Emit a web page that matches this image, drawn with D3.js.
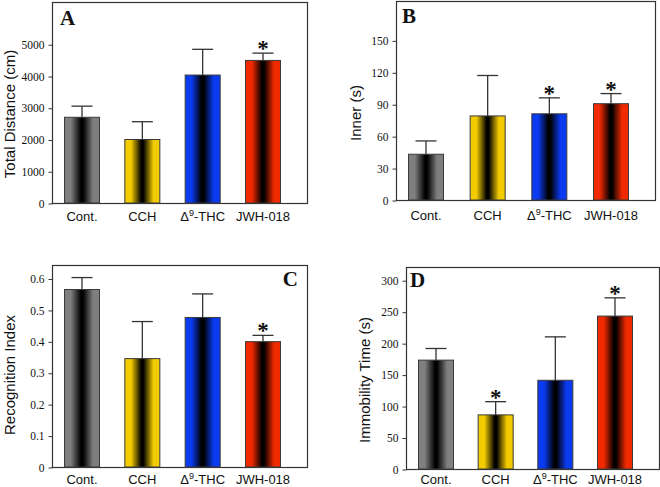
<!DOCTYPE html>
<html>
<head>
<meta charset="utf-8">
<script src="https://cdn.jsdelivr.net/npm/d3@7"></script>
<style>
  body { margin: 0; background: #fff; }
  .tick text { font-family: "Liberation Serif", "Times New Roman", serif; font-size: 11.5px; fill: #111; }
  .tick line, .domain { stroke: #333; }
  .ytitle { font-family: "Liberation Sans", Arial, sans-serif; font-size: 15px; fill: #111; }
  .cat { font-family: "Liberation Sans", Arial, sans-serif; font-size: 13px; fill: #111; }
  .letter { font-family: "Liberation Serif", "Times New Roman", serif; font-size: 21px; font-weight: bold; fill: #111; }
  .star { font-family: "Liberation Serif", "Times New Roman", serif; font-size: 23px; font-weight: bold; fill: #111; }
</style>
</head>
<body>
<div id="chart"></div>
<script>
// groups shown on every panel
var groups = ["Cont.", "CCH", "THC", "JWH-018"];

// A - total distance
var distMean = [2700, 2000, 4030, 4490];
var distErr = [350, 560, 810, 230];
var distStar = [false, false, false, true];
var distTicks = [0, 1000, 2000, 3000, 4000, 5000];

// B - time in inner zone
var innerMean = [43, 79, 81, 90.5];
var innerErr = [12.5, 38, 15, 9.5];
var innerStar = [false, false, true, true];
var innerTicks = [0, 30, 60, 90, 120, 150];

// C - recognition index
var recogMean = [0.565, 0.345, 0.476, 0.399];
var recogErr = [0.038, 0.118, 0.075, 0.02];
var recogStar = [false, false, false, true];
var recogTicks = [0, 0.1, 0.2, 0.3, 0.4, 0.5, 0.6];

// D - immobility time
var immobMean = [173, 86, 141, 243];
var immobErr = [18.5, 21, 69, 29];
var immobStar = [false, true, false, true];
var immobTicks = [0, 50, 100, 150, 200, 250, 300];

var colors = ["#7f7f7f", "#f2cb00", "#0b3bf0", "#f22a00"];

var svg = d3.select("#chart").append("svg")
  .attr("width", 660)
  .attr("height", 487);

// one gradient per colour: bright at the edges, black in the middle
var defs = svg.append("defs");
colors.forEach(function(c, i) {
  var g = defs.append("linearGradient")
    .attr("id", "grad" + i)
    .attr("x1", "0%").attr("x2", "100%")
    .attr("y1", "0%").attr("y2", "0%");
  g.append("stop").attr("offset", "0%").attr("stop-color", c);
  g.append("stop").attr("offset", "18%").attr("stop-color", c);
  g.append("stop").attr("offset", "47%").attr("stop-color", "#000");
  g.append("stop").attr("offset", "53%").attr("stop-color", "#000");
  g.append("stop").attr("offset", "82%").attr("stop-color", c);
  g.append("stop").attr("offset", "100%").attr("stop-color", c);
});

var panels = [
  { letter: "A", mean: distMean, err: distErr, star: distStar, ticks: distTicks, yMax: 6330,
    title: "Total Distance (cm)", x: 52, y: 2, w: 255, h: 201, catDy: 18,
    titleX: 10, titleY: 114, letterX: 60, letterY: 25, anchor: "start" },
  { letter: "B", mean: innerMean, err: innerErr, star: innerStar, ticks: innerTicks, yMax: 187,
    title: "Inner (s)", x: 396, y: 1, w: 259, h: 199, catDy: 20,
    titleX: 356, titleY: 113, letterX: 402, letterY: 23, anchor: "start" },
  { letter: "C", mean: recogMean, err: recogErr, star: recogStar, ticks: recogTicks, yMax: 0.643,
    title: "Recognition Index", x: 52, y: 265, w: 255, h: 202, catDy: 17,
    titleX: 10, titleY: 375, letterX: 298, letterY: 286, anchor: "end" },
  { letter: "D", mean: immobMean, err: immobErr, star: immobStar, ticks: immobTicks, yMax: 321,
    title: "Immobility Time (s)", x: 406, y: 267, w: 253, h: 202, catDy: 15,
    titleX: 365, titleY: 380, letterX: 410, letterY: 287, anchor: "start" }
];

panels.forEach(drawPanel);

function drawPanel(p) {
  var g = svg.append("g")
    .attr("transform", `translate(${p.x}, ${p.y})`);

  var x = d3.scalePoint()
    .domain(groups)
    .range([30, p.w - 44]);

  var y = d3.scaleLinear()
    .domain([0, p.yMax])
    .range([p.h, 0]);

  var barW = 35;

  // frame
  g.append("rect")
    .attr("x", 0.5).attr("y", 0.5)
    .attr("width", p.w).attr("height", p.h)
    .attr("fill", "none")
    .attr("stroke", "#333")
    .attr("stroke-width", 1.2);

  // y axis
  g.append("g")
    .attr("transform", "translate(0.5, 0.5)")
    .call(d3.axisLeft(y).tickValues(p.ticks).tickSize(4).tickPadding(4).tickFormat(function(d) { return String(d); }))
    .call(function(a) { a.select(".domain").remove(); });

  // error bars first, bars sit over the lower part
  var eb = g.selectAll(".err")
    .data(groups)
    .enter().append("g").attr("class", "err");

  eb.append("line")
    .attr("x1", function(d) { return x(d); })
    .attr("x2", function(d) { return x(d); })
    .attr("y1", function(d, i) { return y(p.mean[i]); })
    .attr("y2", function(d, i) { return y(p.mean[i] + p.err[i]); })
    .attr("stroke", "#333").attr("stroke-width", 1.3);

  eb.append("line")
    .attr("x1", function(d) { return x(d) - 10.5; })
    .attr("x2", function(d) { return x(d) + 10.5; })
    .attr("y1", function(d, i) { return y(p.mean[i] + p.err[i]); })
    .attr("y2", function(d, i) { return y(p.mean[i] + p.err[i]); })
    .attr("stroke", "#333").attr("stroke-width", 1.3);

  g.selectAll(".bar")
    .data(groups)
    .enter().append("rect")
    .attr("class", "bar")
    .attr("x", function(d) { return x(d) - barW / 2; })
    .attr("width", barW)
    .attr("y", function(d, i) { return y(p.mean[i]); })
    .attr("height", function(d, i) { return p.h - y(p.mean[i]); })
    .attr("fill", function(d, i) { return "url(#grad" + i + ")"; })
    .attr("stroke", "#3a3a3a")
    .attr("stroke-width", 1);

  // significance stars
  g.selectAll(".star")
    .data(groups.filter(function(d, i) { return p.star[i]; }))
    .enter().append("text")
    .attr("class", "star")
    .attr("text-anchor", "middle")
    .attr("x", function(d) { return x(d); })
    .attr("y", function(d) { var i = groups.indexOf(d); return y(p.mean[i] + p.err[i]) + 3; })
    .text("*");

  // category labels
  var cats = g.selectAll(".cat")
    .data(groups)
    .enter().append("text")
    .attr("class", "cat")
    .attr("text-anchor", "middle")
    .attr("x", function(d) { return x(d); })
    .attr("y", p.h + p.catDy);

  cats.each(function(d) {
    var t = d3.select(this);
    if (d === "THC") {
      t.append("tspan").text("Δ");
      t.append("tspan").attr("dy", -5).attr("font-size", "9px").text("9");
      t.append("tspan").attr("dy", 5).text("-THC");
    } else {
      t.text(d);
    }
  });

  // panel letter
  svg.append("text")
    .attr("class", "letter")
    .attr("text-anchor", p.anchor)
    .attr("x", p.letterX)
    .attr("y", p.letterY)
    .text(p.letter);

  // y title
  svg.append("text")
    .attr("class", "ytitle")
    .attr("text-anchor", "middle")
    .attr("transform", `translate(${p.titleX + 5}, ${p.titleY}) rotate(-90)`)
    .text(p.title);
}
</script>
</body>
</html>
